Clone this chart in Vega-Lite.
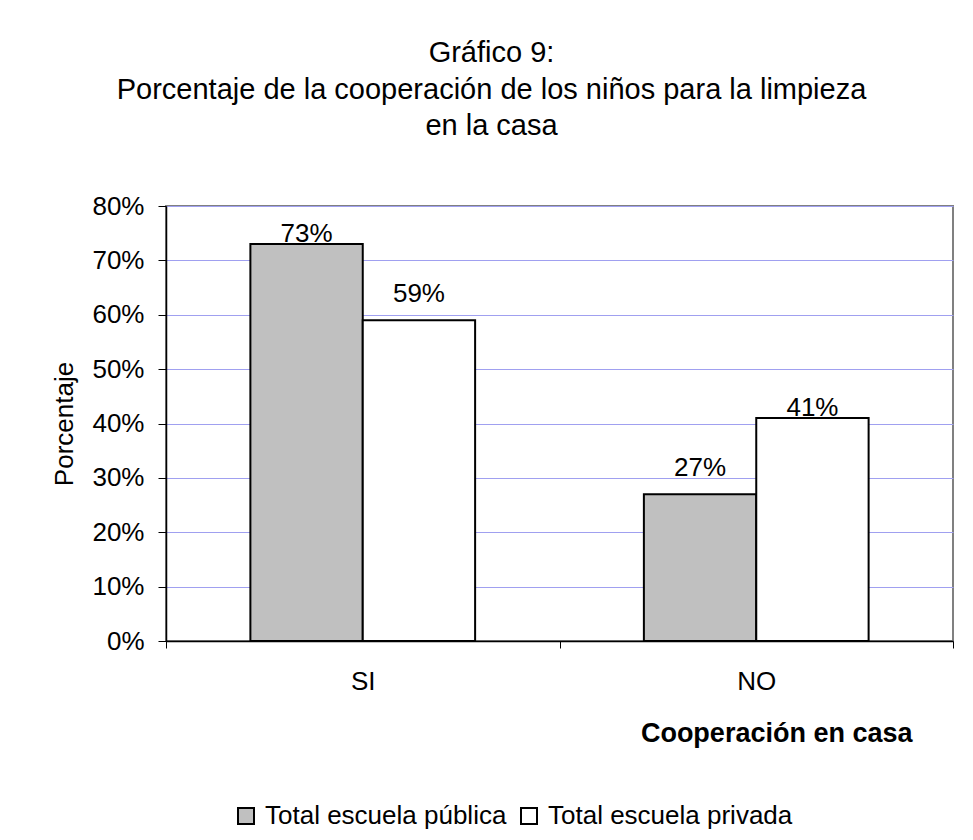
{
  "$schema": "https://vega.github.io/schema/vega-lite/v6.json",
  "width": 787,
  "height": 435,
  "autosize": {"type": "none"},
  "padding": {"left": 166, "top": 206, "right": 20, "bottom": 199},
  "background": "white",
  "title": {
    "text": ["Gráfico 9:", "Porcentaje de la cooperación de los niños para la limpieza", "en la casa"],
    "fontSize": 29,
    "font": "Liberation Sans",
    "fontWeight": "normal",
    "color": "black",
    "lineHeight": 36.5,
    "anchor": "middle",
    "dx": -68,
    "offset": 52
  },
  "data": {
    "values": [
      {"cat": "SI", "serie": "Total escuela pública", "v": 0.73, "over": "yes"},
      {"cat": "SI", "serie": "Total escuela privada", "v": 0.59, "over": "no"},
      {"cat": "NO", "serie": "Total escuela pública", "v": 0.27, "over": "no"},
      {"cat": "NO", "serie": "Total escuela privada", "v": 0.41, "over": "yes"}
    ]
  },
  "encoding": {
    "x": {
      "field": "cat", "type": "nominal", "sort": ["SI", "NO"],
      "scale": {"paddingInner": 0, "paddingOuter": 0},
      "axis": {
        "title": "Cooperación en casa",
        "labelAngle": 0,
        "labelFontSize": 26,
        "labelPadding": 20,
        "tickSize": 7,
        "tickBand": "extent",
        "titleFontSize": 27,
        "titleFontWeight": "bold",
        "titleX": 746,
        "titleY": 100,
        "titleAlign": "right",
        "titleBaseline": "alphabetic",
        "grid": false
      }
    },
    "xOffset": {
      "field": "serie", "type": "nominal",
      "sort": ["Total escuela pública", "Total escuela privada"],
      "scale": {"paddingInner": 0, "paddingOuter": 0.751}
    },
    "y": {
      "field": "v", "type": "quantitative",
      "scale": {"domain": [0, 0.8]},
      "axis": {
        "title": "Porcentaje",
        "values": [0, 0.1, 0.2, 0.3, 0.4, 0.5, 0.6, 0.7, 0.8],
        "format": ".0%",
        "labelFontSize": 26,
        "tickSize": 8,
        "labelPadding": 14,
        "titleFontSize": 26,
        "titleFontWeight": "normal",
        "titlePadding": 14,
        "grid": true,
        "gridColor": "#a0a0f0",
        "gridWidth": 1
      }
    }
  },
  "layer": [
    {
      "mark": {"type": "bar", "stroke": "black", "strokeWidth": 2},
      "encoding": {
        "color": {
          "field": "serie", "type": "nominal",
          "sort": ["Total escuela pública", "Total escuela privada"],
          "scale": {"domain": ["Total escuela pública", "Total escuela privada"], "range": ["#c0c0c0", "#ffffff"]},
          "legend": {
            "title": null,
            "orient": "none",
            "direction": "horizontal",
            "legendX": 67,
            "legendY": 597,
            "symbolType": "square",
            "symbolSize": 256,
            "symbolStrokeColor": "black",
            "symbolStrokeWidth": 2,
            "labelFontSize": 26,
            "labelOffset": 6,
            "labelLimit": 0,
            "columnPadding": 9,
            "labelColor": "black",
            "labelFont": "Liberation Sans"
          }
        }
      }
    },
    {
      "transform": [{"filter": "datum.over == 'yes'"}],
      "mark": {"type": "text", "baseline": "alphabetic", "dy": -2, "fontSize": 26, "font": "Liberation Sans", "color": "black"},
      "encoding": {"text": {"field": "v", "type": "quantitative", "format": ".0%"}}
    },
    {
      "transform": [{"filter": "datum.over == 'no'"}],
      "mark": {"type": "text", "baseline": "alphabetic", "dy": -18, "fontSize": 26, "font": "Liberation Sans", "color": "black"},
      "encoding": {"text": {"field": "v", "type": "quantitative", "format": ".0%"}}
    }
  ],
  "config": {
    "font": "Liberation Sans",
    "view": {"stroke": "#808080", "strokeWidth": 2},
    "axis": {
      "labelFont": "Liberation Sans",
      "titleFont": "Liberation Sans",
      "labelColor": "black",
      "titleColor": "black",
      "domainColor": "black",
      "domainWidth": 1.5,
      "tickColor": "black",
      "tickWidth": 1
    }
  }
}
